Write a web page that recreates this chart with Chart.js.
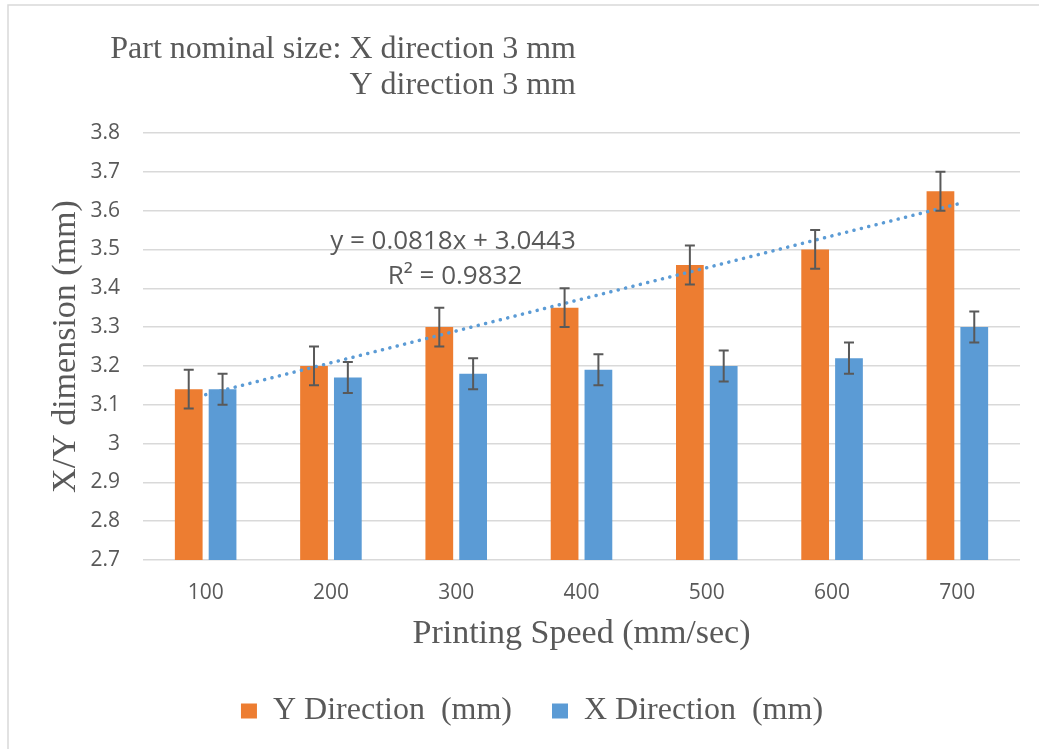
<!DOCTYPE html>
<html>
<head>
<meta charset="utf-8">
<script src="https://cdn.jsdelivr.net/npm/chart.js@4/dist/chart.umd.min.js"></script>
<style>
  html, body { margin: 0; padding: 0; background: #fff; }
  #wrap { width: 1039px; height: 749px; position: relative; }
</style>
</head>
<body>
<div id="wrap"><canvas id="chart"></canvas></div>
<script>
// data
const speeds = ["100", "200", "300", "400", "500", "600", "700"];
const yDirection = [3.14, 3.20, 3.30, 3.35, 3.46, 3.50, 3.65];
const yDirectionErr = [0.05, 0.05, 0.05, 0.05, 0.05, 0.05, 0.05];
const xDirection = [3.14, 3.17, 3.18, 3.19, 3.20, 3.22, 3.30];
const xDirectionErr = [0.04, 0.04, 0.04, 0.04, 0.04, 0.04, 0.04];
const trendValues = [3.126, 3.208, 3.290, 3.372, 3.453, 3.535, 3.617];
const trendLabel = ["y = 0.0818x + 3.0443", "R² = 0.9832"];
const titleLines = ["Part nominal size: X direction 3 mm", "Y direction 3 mm"];

const ORANGE = "#ed7d31";
const BLUE = "#5b9bd5";
const TEXT = "#595959";
const SERIF = "'Liberation Serif', 'Times New Roman', serif";
const SANS = "'Open Sans', 'Liberation Sans', sans-serif";

const errorBars = {
  id: "errorBars",
  afterDatasetsDraw(chart) {
    const ctx = chart.ctx;
    const y = chart.scales.y;
    ctx.save();
    ctx.strokeStyle = TEXT;
    ctx.lineWidth = 2;
    chart.data.datasets.forEach((ds, i) => {
      if (!ds.errors) return;
      chart.getDatasetMeta(i).data.forEach((bar, j) => {
        const top = y.getPixelForValue(ds.data[j] + ds.errors[j]);
        const bot = y.getPixelForValue(ds.data[j] - ds.errors[j]);
        ctx.beginPath();
        ctx.moveTo(bar.x, top); ctx.lineTo(bar.x, bot);
        ctx.moveTo(bar.x - 5, top); ctx.lineTo(bar.x + 5, top);
        ctx.moveTo(bar.x - 5, bot); ctx.lineTo(bar.x + 5, bot);
        ctx.stroke();
      });
    });
    ctx.restore();
  }
};

const decorations = {
  id: "decorations",
  beforeDraw(chart) {
    const ctx = chart.ctx;
    ctx.save();
    ctx.strokeStyle = "#d9d9d9";
    ctx.lineWidth = 1.5;
    ctx.beginPath();
    ctx.moveTo(8, 749); ctx.lineTo(8, 5); ctx.lineTo(1039, 5);
    ctx.stroke();
    ctx.restore();
  },
  afterDraw(chart) {
    const ctx = chart.ctx;
    ctx.save();
    ctx.fillStyle = TEXT;
    ctx.textBaseline = "middle";
    ctx.textAlign = "right";
    ctx.font = "32px " + SERIF;
    ctx.fillText(titleLines[0], 576, 50);
    ctx.fillText(titleLines[1], 576, 86);
    ctx.textAlign = "center";
    ctx.font = "26px " + SANS;
    ctx.fillText(trendLabel[0], 453, 242);
    ctx.fillText(trendLabel[1], 455, 277);
    ctx.restore();
  }
};

new Chart(document.getElementById("chart"), {
  type: "bar",
  data: {
    labels: speeds,
    datasets: [
      {
        label: "Y Direction  (mm)",
        data: yDirection,
        errors: yDirectionErr,
        backgroundColor: ORANGE,
        order: 1,
        categoryPercentage: 0.54,
        barPercentage: 0.82
      },
      {
        label: "X Direction  (mm)",
        data: xDirection,
        errors: xDirectionErr,
        backgroundColor: BLUE,
        order: 1,
        categoryPercentage: 0.54,
        barPercentage: 0.82
      },
      {
        type: "line",
        label: "trend",
        data: trendValues,
        borderColor: BLUE,
        borderWidth: 3.5,
        borderCapStyle: "round",
        borderDash: [0.1, 7.5],
        pointRadius: 0,
        fill: false,
        order: 0
      }
    ]
  },
  plugins: [decorations, errorBars],
  options: {
    responsive: true,
    maintainAspectRatio: false,
    animation: false,
    layout: { padding: { top: 133, left: 44, right: 19, bottom: 12 } },
    plugins: {
      legend: {
        position: "bottom",
        labels: {
          filter: item => item.text !== "trend",
          color: TEXT,
          font: { family: SERIF, size: 32 },
          boxWidth: 16,
          boxHeight: 15,
          padding: 40
        }
      },
      tooltip: { enabled: false }
    },
    scales: {
      x: {
        grid: { display: false },
        border: { display: false },
        ticks: { color: TEXT, font: { family: SANS, size: 21 }, padding: 12 },
        title: {
          display: true,
          text: "Printing Speed (mm/sec)",
          color: TEXT,
          font: { family: SERIF, size: 34 },
          padding: { top: 0, bottom: 1 }
        },
        afterFit(s) { s.height = 95; }
      },
      y: {
        min: 2.7,
        max: 3.8,
        grid: { color: "#d9d9d9", lineWidth: 1.5, drawTicks: false },
        border: { display: false },
        ticks: {
          stepSize: 0.1,
          color: TEXT,
          font: { family: SANS, size: 21 },
          padding: 23,
          callback: v => String(+v.toFixed(1))
        },
        title: {
          display: true,
          text: "X/Y dimension (mm)",
          color: TEXT,
          font: { family: SERIF, size: 34 },
          padding: { top: 1.6, bottom: 0 }
        },
        afterFit(s) { s.width = 99; }
      }
    }
  }
});
</script>
</body>
</html>
